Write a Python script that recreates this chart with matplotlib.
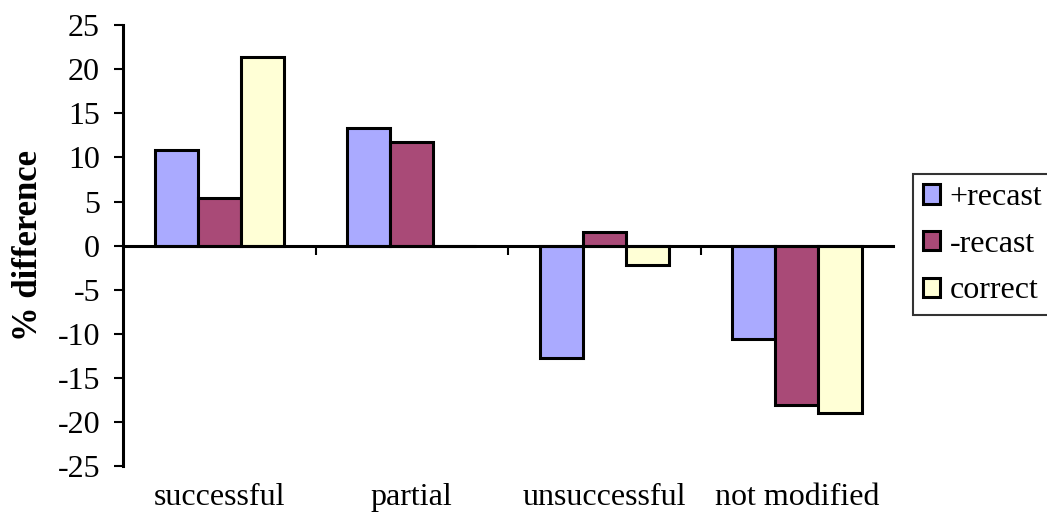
import numpy as np
import matplotlib.pyplot as plt

plt.rcParams['font.family'] = ['Liberation Serif', 'DejaVu Serif']
plt.rcParams['axes.unicode_minus'] = False

# Percentage differences per outcome category
categories = ['successful', 'partial', 'unsuccessful', 'not modified']
plus_recast = [10.8, 13.3, -12.7, -10.6]
minus_recast = [5.4, 11.7, 1.6, -18.1]
correct = [21.4, 0.0, -2.2, -19.0]

series = [('+recast', plus_recast, '#AAAAFF'),
          ('-recast', minus_recast, '#A94A77'),
          ('correct', correct, '#FFFFD6')]

fig = plt.figure(figsize=(10.47, 5.14), dpi=100)
ax = fig.add_axes([0.1175, 0.093, 0.7355, 0.858])

x = np.arange(len(categories))
width = 0.224
for i, (name, vals, color) in enumerate(series):
    ax.bar(x + (i - 1) * width, vals, width, color=color,
           edgecolor='black', linewidth=2.2, label=name, zorder=3)

ax.set_xlim(-0.5, len(categories) - 0.5)
ax.set_ylim(-25, 25)
ax.set_yticks(np.arange(-25, 26, 5))
ax.tick_params(axis='y', direction='out', length=6.5, width=1.5,
               labelsize=23, pad=10)

# x axis runs through zero, with ticks between the categories
ax.spines['bottom'].set_position(('data', 0))
ax.spines['bottom'].set_linewidth(2.2)
ax.spines['bottom'].set_zorder(4)
ax.spines['left'].set_linewidth(2.2)
ax.spines['top'].set_visible(False)
ax.spines['right'].set_visible(False)
ax.set_xticks(x[:-1] + 0.5)
ax.set_xticklabels([])
ax.tick_params(axis='x', direction='out', length=6.5, width=1.5)

# category names along the bottom of the plot
sec = ax.secondary_xaxis(0)
sec.set_xticks(x, categories)
sec.tick_params(length=0, labelsize=23, pad=12)
sec.spines['bottom'].set_visible(False)

ax.set_ylabel('% difference', fontsize=25, fontweight='bold', labelpad=9)

leg = ax.legend(loc='center left', bbox_to_anchor=(1.026, 0.503),
                fontsize=23, frameon=True, fancybox=False,
                edgecolor='black', handlelength=0.55, handleheight=0.55,
                handletextpad=0.3, borderpad=0.3, labelspacing=0.55,
                borderaxespad=0)
leg.get_frame().set_linewidth(1.5)

fig.savefig('out.png', dpi=100)
